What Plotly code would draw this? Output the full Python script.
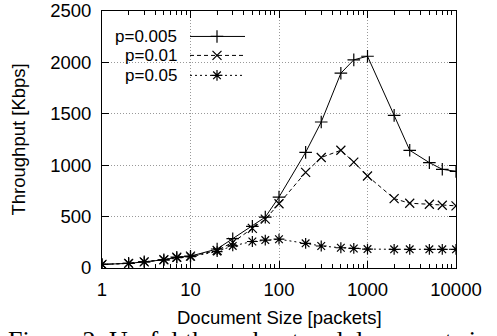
import plotly.graph_objects as go

doc_size = [1, 2, 3, 5, 7, 10, 20, 30, 50, 70, 100, 200, 300, 500, 700, 1000, 2000, 3000, 5000, 7000, 10000]
p005 = [35, 45, 60, 80, 105, 115, 185, 285, 405, 495, 690, 1125, 1420, 1895, 2025, 2060, 1485, 1145, 1025, 960, 940]
p01 = [35, 45, 60, 80, 105, 115, 170, 250, 385, 475, 625, 930, 1075, 1145, 1030, 895, 675, 630, 620, 610, 605]
p05 = [35, 45, 60, 80, 100, 110, 160, 215, 258, 272, 280, 240, 214, 197, 190, 184, 182, 182, 182, 182, 182]

series_names = ["p=0.005", "p=0.01", "p=0.05"]
x_ticks = [1, 10, 100, 1000, 10000]
x_minor = [m * d for d in [1, 10, 100, 1000] for m in range(2, 10)]
y_ticks = [0, 500, 1000, 1500, 2000, 2500]

FONT = "Liberation Sans, Arial, sans-serif"
styles = [
    dict(dash="solid", symbol="cross-thin-open", size=9),
    dict(dash="4px,3px", symbol="x-thin-open", size=9),
    dict(dash="2px,3px", symbol="asterisk-open", size=9),
]
data = [p005, p01, p05]

W, H = 497, 336
# plot area in page pixels
L, R, T, B = 102, 456, 10.5, 268


def px(x):
    return (x - L) / (R - L)


def py(y):
    return (B - y) / (B - T)


fig = go.Figure()
for name, ys, st in zip(series_names, data, styles):
    fig.add_trace(go.Scatter(
        x=doc_size, y=ys, mode="lines+markers", name=name, showlegend=False,
        line=dict(color="black", width=1, dash=st["dash"]),
        marker=dict(symbol=st["symbol"], size=st["size"], color="black",
                    line=dict(color="black", width=1.2)),
    ))

# Manual legend (text on the left, sample on the right) in helper axes [0,1]
legend_rows = [36, 55, 75]
for name, yy, st in zip(series_names, legend_rows, styles):
    fig.add_trace(go.Scatter(
        x=[px(190), px(217), px(245)], y=[py(yy)] * 3, xaxis="x2", yaxis="y2",
        mode="lines", showlegend=False, hoverinfo="skip",
        line=dict(color="black", width=1, dash=st["dash"]),
    ))
    fig.add_trace(go.Scatter(
        x=[px(217)], y=[py(yy)], xaxis="x2", yaxis="y2", mode="markers",
        showlegend=False, hoverinfo="skip",
        marker=dict(symbol=st["symbol"], size=st["size"], color="black",
                    line=dict(color="black", width=1.2)),
    ))
    fig.add_annotation(x=px(179), y=py(yy), xref="paper", yref="paper", text=name,
                       showarrow=False, xanchor="right", yanchor="middle",
                       font=dict(family=FONT, size=17, color="black"))

fig.add_shape(type="rect", xref="paper", yref="paper",
              x0=px(L + 1), x1=px(256), y0=py(83), y1=py(30),
              fillcolor="white", line=dict(width=0), layer="between")

axis_common = dict(
    showline=True, linecolor="black", linewidth=1, mirror="ticks",
    ticks="inside", ticklen=7, tickcolor="black", tickwidth=1,
    showgrid=True, gridcolor="#999999", griddash="1px,2px", gridwidth=1,
    zeroline=False, tickfont=dict(family=FONT, size=18.5, color="black"),
)

fig.update_layout(
    width=W, height=H,
    margin=dict(l=L, r=W - R, t=T, b=H - B, autoexpand=False),
    paper_bgcolor="white", plot_bgcolor="white",
    xaxis=dict(type="log", range=[0, 4], tickvals=x_ticks,
               ticktext=[str(v) for v in x_ticks],
               minor=dict(tickvals=x_minor, ticks="inside", ticklen=4,
                          tickcolor="black", showgrid=False),
               ticklabelstandoff=5, **axis_common),
    yaxis=dict(range=[0, 2500], tickvals=y_ticks, ticklabelstandoff=6,
               **axis_common),
    xaxis2=dict(overlaying="x", range=[0, 1], visible=False),
    yaxis2=dict(overlaying="y", range=[0, 1], visible=False),
)

fig.add_annotation(x=0.5, y=py(318), xref="paper", yref="paper",
                   text="Document Size [packets]", showarrow=False,
                   xanchor="center", yanchor="middle",
                   font=dict(family=FONT, size=18.5, color="black"))
fig.add_annotation(x=px(18), y=0.5, xref="paper", yref="paper",
                   text="Throughput [Kbps]", showarrow=False, textangle=-90,
                   xanchor="center", yanchor="middle",
                   font=dict(family=FONT, size=18.5, color="black"))
fig.add_annotation(x=px(7), y=py(325), xref="paper", yref="paper",
                   xanchor="left", yanchor="top",
                   text="Figure 2: Useful throughput and document size",
                   showarrow=False, borderpad=0,
                   font=dict(family="Liberation Serif, Times New Roman, serif",
                             size=26, color="black"))

fig.write_html(
    "out.html",
    config={"displayModeBar": False},
    post_script="document.body.style.margin='0';document.body.style.padding='0';",
)
